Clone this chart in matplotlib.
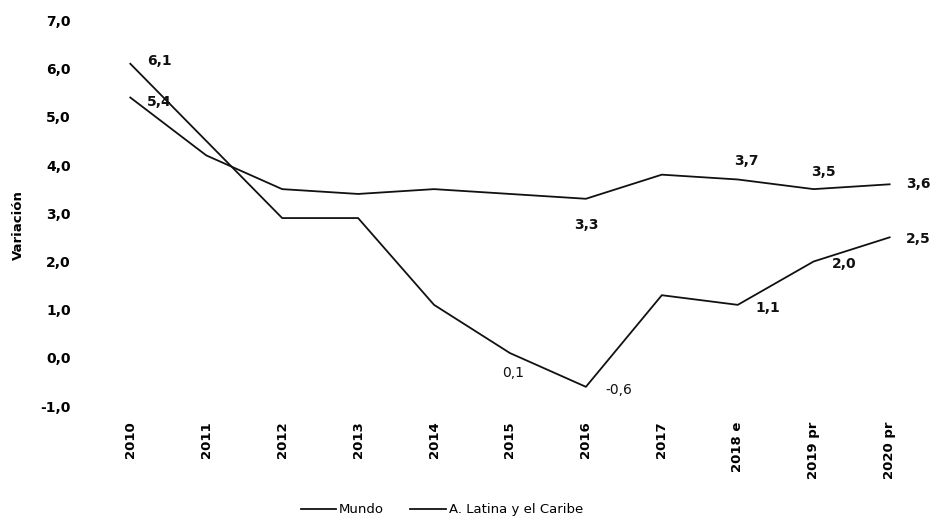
import matplotlib
matplotlib.use("Agg")
import matplotlib.pyplot as plt

years = ["2010", "2011", "2012", "2013", "2014", "2015", "2016", "2017",
         "2018 e", "2019 pr", "2020 pr"]
mundo = [5.4, 4.2, 3.5, 3.4, 3.5, 3.4, 3.3, 3.8, 3.7, 3.5, 3.6]
latam = [6.1, 4.5, 2.9, 2.9, 1.1, 0.1, -0.6, 1.3, 1.1, 2.0, 2.5]
y_ticks = [-1, 0, 1, 2, 3, 4, 5, 6, 7]

# which points carry a value label, and where the label sits (offset points)
mundo_labels = {0: (12, -3, "left"), 6: (0, -19, "center"), 8: (6, 13, "center"),
                9: (7, 12, "center"), 10: (12, 0, "left")}
latam_labels = {0: (12, 2, "left"), 5: (2, -14, "center"), 6: (14, -2, "left"),
                8: (22, -2, "center"), 9: (22, -2, "center"), 10: (12, -1, "left")}

plt.rcParams["font.family"] = ["DejaVu Sans"]

fig = plt.figure(figsize=(9.34, 5.22), dpi=100)
ax = fig.add_axes([0.107, 0.222, 0.878, 0.739])

x = list(range(len(years)))
ax.plot(x, mundo, color="#111111", lw=1.3, label="Mundo")
ax.plot(x, latam, color="#111111", lw=1.3, label="A. Latina y el Caribe")

for series, labels in ((mundo, mundo_labels), (latam, latam_labels)):
    for i, (dx, dy, ha) in labels.items():
        txt = f"{series[i]:.1f}".replace(".", ",")
        weight = "normal" if series is latam and i in (5, 6) else "bold"
        ax.annotate(txt, (x[i], series[i]), xytext=(dx, dy), textcoords="offset points",
                    ha=ha, va="center", fontsize=10, fontweight=weight, color="#111111")

ax.set_xlim(-0.4, 10.4)
ax.set_ylim(-1, 7)
ax.set_xticks(x)
ax.set_xticklabels(years, rotation=90, fontsize=9.5, fontweight="bold")
ax.set_yticks(y_ticks)
ax.set_yticklabels([f"{v:.1f}".replace(".", ",") for v in y_ticks],
                   fontsize=10, fontweight="bold")
ax.tick_params(axis="x", length=0, pad=11)
ax.tick_params(axis="y", length=0, pad=21)
for s in ax.spines.values():
    s.set_visible(False)

ax.set_ylabel("Variación", fontsize=9.5, fontweight="bold", labelpad=2)
ax.yaxis.set_label_coords(-0.092, 0.47)

fig.legend(loc="lower center", bbox_to_anchor=(0.473, -0.012), ncol=2, frameon=False,
           handlelength=2.7, handletextpad=0.2, columnspacing=2.0,
           prop={"size": 9.5})

fig.savefig("out.png", dpi=100)
